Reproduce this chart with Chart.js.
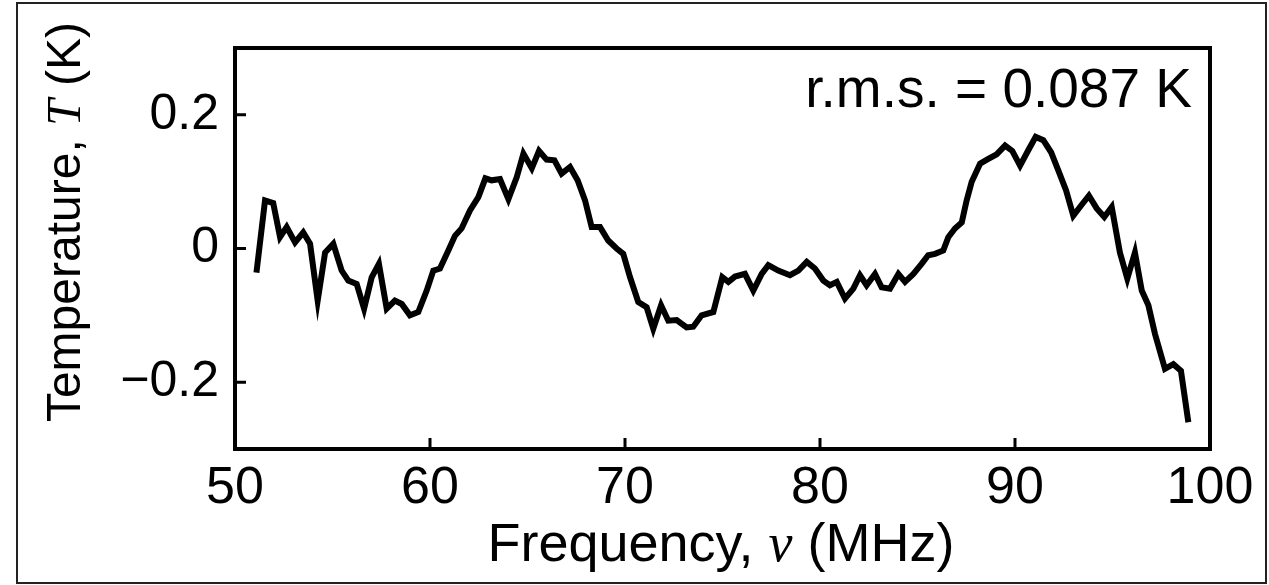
<!DOCTYPE html>
<html>
<head>
<meta charset="utf-8">
<script src="https://cdn.jsdelivr.net/npm/chart.js@4.4.1/dist/chart.umd.min.js"></script>
<style>
  html, body { margin: 0; padding: 0; background: #fff; }
  #wrap { width: 1269px; height: 585px; }
</style>
</head>
<body>
<div id="wrap"><canvas id="spectrum" width="1269" height="585"></canvas></div>
<script>
// residual spectrum
const freq = [
  51.10, 51.54, 51.96, 52.31, 52.65, 53.08, 53.50, 53.85, 54.24, 54.62,
  55.04, 55.47, 55.81, 56.24, 56.62, 57.01, 57.38, 57.78, 58.20, 58.55,
  58.97, 59.40, 59.83, 60.17, 60.51, 60.94, 61.28, 61.62, 62.05, 62.48,
  62.84, 63.16, 63.59, 64.02, 64.45, 64.79, 65.22, 65.59, 65.98, 66.38,
  66.75, 67.18, 67.57, 67.95, 68.29, 68.72, 69.14, 69.57, 69.91, 70.26,
  70.68, 71.11, 71.45, 71.85, 72.22, 72.65, 73.16, 73.50, 73.93, 74.53,
  74.99, 75.30, 75.64, 76.15, 76.58, 77.01, 77.35, 77.86, 78.46, 78.89,
  79.32, 79.74, 80.17, 80.51, 80.86, 81.28, 81.71, 82.05, 82.39, 82.82,
  83.16, 83.59, 84.02, 84.36, 84.79, 85.21, 85.55, 85.90, 86.32, 86.58,
  86.92, 87.27, 87.52, 87.78, 88.21, 88.63, 89.06, 89.49, 89.86, 90.26,
  90.68, 91.06, 91.45, 91.85, 92.22, 92.62, 92.99, 93.38, 93.79, 94.19,
  94.58, 94.96, 95.38, 95.76, 96.15, 96.50, 96.84, 97.18, 97.69, 98.12,
  98.51, 98.89
];
const temp = [
  -0.036, 0.072, 0.068, 0.017, 0.032, 0.009, 0.024, 0.007, -0.078, -0.006,
  0.007, -0.033, -0.048, -0.053, -0.090, -0.043, -0.023, -0.090, -0.078, -0.083,
  -0.100, -0.095, -0.063, -0.033, -0.030, -0.003, 0.019, 0.030, 0.057, 0.077,
  0.105, 0.102, 0.104, 0.074, 0.107, 0.142, 0.120, 0.146, 0.133, 0.132,
  0.112, 0.122, 0.102, 0.072, 0.032, 0.032, 0.012, 0.000, -0.008, -0.043,
  -0.080, -0.088, -0.120, -0.085, -0.108, -0.107, -0.118, -0.117, -0.100, -0.095,
  -0.043, -0.050, -0.042, -0.038, -0.063, -0.038, -0.025, -0.033, -0.040, -0.033,
  -0.020, -0.030, -0.048, -0.055, -0.050, -0.075, -0.060, -0.040, -0.055, -0.038,
  -0.058, -0.060, -0.038, -0.050, -0.038, -0.023, -0.010, -0.008, -0.003, 0.017,
  0.030, 0.039, 0.072, 0.100, 0.127, 0.134, 0.141, 0.154, 0.146, 0.124,
  0.147, 0.167, 0.162, 0.144, 0.117, 0.087, 0.049, 0.064, 0.079, 0.060,
  0.047, 0.062, -0.006, -0.045, -0.006, -0.063, -0.085, -0.128, -0.180, -0.173,
  -0.183, -0.260
];

const xTicks = [50, 60, 70, 80, 90, 100];
const yTicks = [-0.2, 0, 0.2];
const yTickLabels = ['\u22120.2', '0', '0.2'];
const rmsNote = 'r.m.s. = 0.087 K';

const FONT = '"Liberation Sans", Arial, Helvetica, sans-serif';

// frame, inward ticks, outer border, axis titles with italic symbols
const decorations = {
  id: 'decorations',
  afterDraw(chart) {
    const ctx = chart.ctx;
    const { left, right, top, bottom } = chart.chartArea;
    const xs = chart.scales.x, ys = chart.scales.y;
    ctx.save();
    ctx.strokeStyle = '#000';
    ctx.lineWidth = 4;
    ctx.strokeRect(left, top, right - left, bottom - top);

    ctx.lineWidth = 3;
    ctx.beginPath();
    xTicks.forEach(v => {
      const px = xs.getPixelForValue(v);
      ctx.moveTo(px, bottom);
      ctx.lineTo(px, bottom - 11);
    });
    yTicks.forEach(v => {
      const py = ys.getPixelForValue(v);
      ctx.moveTo(left, py);
      ctx.lineTo(left + 11, py);
    });
    ctx.stroke();

    // outer border of the figure
    ctx.lineWidth = 2;
    ctx.strokeStyle = '#222';
    ctx.strokeRect(17, 3, 1249, 580);

    ctx.fillStyle = '#000';
    ctx.font = '55px ' + FONT;
    ctx.textAlign = 'right';
    ctx.textBaseline = 'alphabetic';
    ctx.fillText(rmsNote, right - 18, top + 59);

    drawMixed(ctx, [['Frequency, ', false], ['\u03bd', true], [' (MHz)', false]], 721, 561, 54, 0);
    drawMixed(ctx, [['Temperature, ', false], ['T', true], [' (K)', false]], 80, 222, 48, -Math.PI / 2);
    ctx.restore();
  }
};

function drawMixed(ctx, parts, cx, baseY, size, rot) {
  const fontFor = it => (it ? 'italic ' : '') + size + 'px ' + (it ? '"Liberation Serif", "Times New Roman", serif' : FONT);
  let total = 0;
  parts.forEach(([t, it]) => { ctx.font = fontFor(it); total += ctx.measureText(t).width; });
  ctx.save();
  ctx.translate(cx, baseY);
  ctx.rotate(rot);
  ctx.textAlign = 'left';
  ctx.textBaseline = 'alphabetic';
  let x = -total / 2;
  parts.forEach(([t, it]) => {
    ctx.font = fontFor(it);
    ctx.fillText(t, x, 0);
    x += ctx.measureText(t).width;
  });
  ctx.restore();
}

new Chart(document.getElementById('spectrum'), {
  type: 'line',
  data: {
    datasets: [{
      data: freq.map((f, i) => ({ x: f, y: temp[i] })),
      borderColor: '#000',
      borderWidth: 6,
      pointRadius: 0,
      tension: 0,
      fill: false
    }]
  },
  options: {
    responsive: false,
    animation: false,
    events: [],
    layout: { padding: { top: 48, right: 59, bottom: 0, left: 0 } },
    plugins: { legend: { display: false }, tooltip: { enabled: false } },
    scales: {
      x: {
        type: 'linear',
        min: 50,
        max: 100,
        afterBuildTicks: s => { s.ticks = xTicks.map(v => ({ value: v })); },
        afterFit: s => { s.height = 136; },
        grid: { display: false, drawTicks: false },
        border: { display: false },
        ticks: {
          color: '#000',
          padding: 8,
          maxRotation: 0,
          autoSkip: false,
          font: { family: FONT, size: 52 }
        }
      },
      y: {
        min: -0.3,
        max: 0.3,
        afterBuildTicks: s => { s.ticks = yTicks.map(v => ({ value: v })); },
        afterFit: s => { s.width = 235; },
        grid: { display: false, drawTicks: false },
        border: { display: false },
        ticks: {
          color: '#000',
          padding: 16,
          autoSkip: false,
          font: { family: FONT, size: 50 },
          callback: (v) => yTickLabels[yTicks.indexOf(v)] ?? ''
        }
      }
    }
  },
  plugins: [decorations]
});
</script>
</body>
</html>
